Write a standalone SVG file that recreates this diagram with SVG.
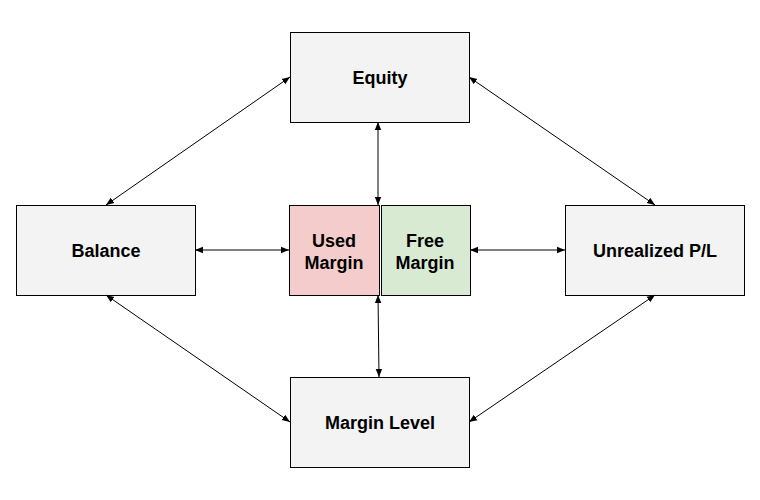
<svg xmlns="http://www.w3.org/2000/svg" width="760" height="500" viewBox="0 0 760 500">
<style>
.b{stroke:#000;stroke-width:1}
.t{font-family:"Liberation Sans",Arial,sans-serif;font-weight:bold;font-size:18px;fill:#000;text-anchor:middle}
.c line{stroke:#000;stroke-width:1;marker-start:url(#a);marker-end:url(#a)}
</style>
<defs><marker id="a" viewBox="0 0 10 10" refX="10" refY="5" markerWidth="8" markerHeight="8" orient="auto-start-reverse" markerUnits="userSpaceOnUse"><path d="M0,1 L10,5 L0,9 z" fill="#000"/></marker></defs>
<rect width="760" height="500" fill="#fff"/>
<g id="equity"><rect class="b" x="290.5" y="32.5" width="179" height="90" fill="#f3f3f3"/><text class="t" x="380" y="84">Equity</text></g>
<g id="balance"><rect class="b" x="16.5" y="205.5" width="179" height="90" fill="#f3f3f3"/><text class="t" x="106" y="257">Balance</text></g>
<g id="unrealized"><rect class="b" x="565.5" y="205.5" width="179" height="90" fill="#f3f3f3"/><text class="t" x="655" y="257">Unrealized P/L</text></g>
<g id="marginlevel"><rect class="b" x="290.5" y="377.5" width="179" height="90" fill="#f3f3f3"/><text class="t" x="380" y="429">Margin Level</text></g>
<g id="used"><rect class="b" x="289.5" y="205.5" width="90" height="90" fill="#f4cccc"/><text class="t" x="334" y="247">Used</text><text class="t" x="334" y="269">Margin</text></g>
<g id="free"><rect class="b" x="381.5" y="205.5" width="89" height="90" fill="#d9ead3"/><text class="t" x="425" y="247">Free</text><text class="t" x="425" y="269">Margin</text></g>
<g class="c" id="connectors">
<line x1="290" y1="77" x2="106" y2="205"/>
<line x1="469" y1="77" x2="655" y2="205"/>
<line x1="106" y1="295" x2="290" y2="422"/>
<line x1="655" y1="295" x2="469" y2="422"/>
<line x1="378" y1="122" x2="378" y2="205"/>
<line x1="378" y1="295" x2="379" y2="377"/>
<line x1="195" y1="250" x2="289" y2="250"/>
<line x1="470" y1="250" x2="565" y2="250"/>
</g>
</svg>
